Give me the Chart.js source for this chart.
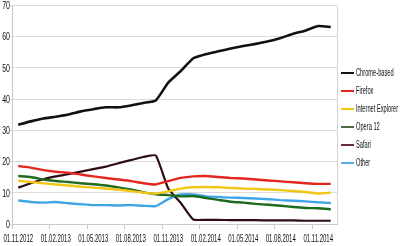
<!DOCTYPE html>
<html>
<head>
<meta charset="utf-8">
<script src="https://cdn.jsdelivr.net/npm/chart.js@4"></script>
<style>
  html, body { margin: 0; padding: 0; background: #fff; }
  #wrap { width: 400px; height: 246px; position: relative; }
</style>
</head>
<body>
<div id="wrap"><canvas id="chart"></canvas></div>
<script>
// monthly shares, Nov 2012 .. Dec 2014
const months = ['01.11.2012','01.12.2012','01.01.2013','01.02.2013','01.03.2013','01.04.2013',
  '01.05.2013','01.06.2013','01.07.2013','01.08.2013','01.09.2013','01.10.2013',
  '01.11.2013','01.12.2013','01.01.2014','01.02.2014','01.03.2014','01.04.2014',
  '01.05.2014','01.06.2014','01.07.2014','01.08.2014','01.09.2014','01.10.2014',
  '01.11.2014','01.12.2014'];

const chromeBased = [31.8,32.9,33.8,34.4,35.1,36.1,36.8,37.4,37.4,38.0,38.8,39.6,
  45.3,49.0,53.1,54.4,55.3,56.2,57.0,57.7,58.5,59.6,60.9,62.0,63.4,63.1];
const firefox = [18.6,18.1,17.3,16.8,16.5,15.9,15.3,14.8,14.3,13.8,13.1,12.7,
  13.8,14.8,15.3,15.4,15.1,14.8,14.6,14.3,14.0,13.7,13.4,13.1,12.9,12.9];
const ie = [13.9,13.5,13.1,12.7,12.4,12.0,11.7,11.4,11.1,10.6,10.1,9.8,
  10.5,11.4,11.8,11.9,11.8,11.6,11.4,11.3,11.1,10.9,10.6,10.3,9.8,10.1];
const opera12 = [15.4,15.1,14.3,13.8,13.5,13.1,12.8,12.4,11.8,11.1,10.2,9.6,
  9.3,8.9,9.0,8.4,7.8,7.2,6.9,6.5,6.2,5.9,5.5,5.2,5.1,4.8];
const safari = [11.7,13.1,14.4,15.3,16.0,16.8,17.6,18.4,19.5,20.5,21.5,22.0,
  11.4,6.8,1.5,1.4,1.4,1.3,1.3,1.3,1.2,1.2,1.2,1.1,1.1,1.1];
const other = [7.6,7.1,6.9,7.1,6.7,6.4,6.1,6.1,6.0,6.1,5.9,5.8,
  8.0,9.5,9.5,8.9,8.7,8.5,8.4,8.2,8.0,7.7,7.5,7.3,7.0,6.8];

const yTicks = [0,10,20,30,40,50,60,70];

const series = [
  { label: 'Chrome-based', data: chromeBased, color: '#111111', width: 2.6 },
  { label: 'Firefox', data: firefox, color: '#e3261f', width: 2.4 },
  { label: 'Internet Explorer', data: ie, color: '#f2c614', width: 2.4 },
  { label: 'Opera 12', data: opera12, color: '#1e6a1e', width: 2.4 },
  { label: 'Safari', data: safari, color: '#2e0c14', width: 2.2 },
  { label: 'Other', data: other, color: '#3fa6e6', width: 2.4 },
];
// legend swatches are a bit lighter than the plotted lines
const legendColors = ['#111111', '#e3261f', '#f2c614', '#4d6a44', '#6a2a3a', '#5aaee6'];

const FONT = '"Liberation Sans", Arial, sans-serif';

// the original uses very narrow lettering, so text is squeezed horizontally
function narrowText(c, text, x, y, size, sx, align) {
  c.save();
  c.font = size + 'px ' + FONT;
  c.fillStyle = '#111';
  c.textBaseline = 'middle';
  const w = c.measureText(text).width * sx;
  let left = x;
  if (align === 'center') left = x - w / 2;
  if (align === 'right') left = x - w;
  c.translate(left, y);
  c.scale(sx, 1);
  c.textAlign = 'left';
  c.fillText(text, 0, 0);
  c.restore();
}

const decor = {
  id: 'decor',
  beforeDatasetsDraw(chart) {
    const a = chart.chartArea, c = chart.ctx;
    c.save();
    c.strokeStyle = '#d4d4d4';
    c.lineWidth = 1;
    c.beginPath();
    c.moveTo(Math.round(a.right) + 0.5, a.top);
    c.lineTo(Math.round(a.right) + 0.5, a.bottom);
    c.stroke();
    c.restore();
  },
  afterDraw(chart) {
    const c = chart.ctx, xs = chart.scales.x, ys = chart.scales.y;
    months.forEach((m, i) => {
      if (i % 3 !== 0) return;
      narrowText(c, m, xs.getPixelForValue(i), xs.top + 15, 10, 0.6, 'center');
    });
    yTicks.forEach(v => {
      narrowText(c, String(v), xs.left - 2, ys.getPixelForValue(v) + 1, 10, 0.7, 'right');
    });
    // legend
    series.forEach((s, k) => {
      const y = 73 + k * 18;
      c.save();
      c.strokeStyle = legendColors[k];
      c.lineWidth = 2;
      c.beginPath();
      c.moveTo(341, y);
      c.lineTo(354, y);
      c.stroke();
      c.restore();
      narrowText(c, s.label, 356, y, 10, 0.57, 'left');
    });
  }
};

new Chart(document.getElementById('chart'), {
  type: 'line',
  data: {
    labels: months,
    datasets: series.map(s => ({
      label: s.label,
      data: s.data,
      borderColor: s.color,
      backgroundColor: s.color,
      borderWidth: s.width,
      pointRadius: 0,
      tension: 0.15,
    }))
  },
  options: {
    responsive: true,
    maintainAspectRatio: false,
    animation: false,
    layout: { padding: { top: 0, left: 0, right: 63, bottom: 0 } },
    plugins: {
      tooltip: { enabled: false },
      legend: { display: false }
    },
    scales: {
      x: {
        type: 'category',
        offset: true,
        grid: {
          offset: true,
          drawOnChartArea: false,
          tickLength: 5,
          tickColor: ctx => (ctx.index % 3 === 0 ? '#c8c8c8' : 'rgba(0,0,0,0)'),
        },
        border: { color: '#c8c8c8' },
        ticks: {
          autoSkip: false,
          maxRotation: 0,
          padding: 3,
          color: 'rgba(0,0,0,0)',
          font: { family: FONT, size: 9 },
          callback: (v, i) => (i % 3 === 0 ? '0' : ''),
        }
      },
      y: {
        min: yTicks[0],
        max: yTicks[yTicks.length - 1],
        afterBuildTicks: axis => { axis.ticks = yTicks.map(v => ({ value: v })); },
        grid: { color: '#dcdcdc', tickLength: 2 },
        border: { color: '#c8c8c8' },
        ticks: {
          padding: 0,
          color: 'rgba(0,0,0,0)',
          font: { family: FONT, size: 9 },
        }
      }
    }
  },
  plugins: [decor]
});
</script>
</body>
</html>
